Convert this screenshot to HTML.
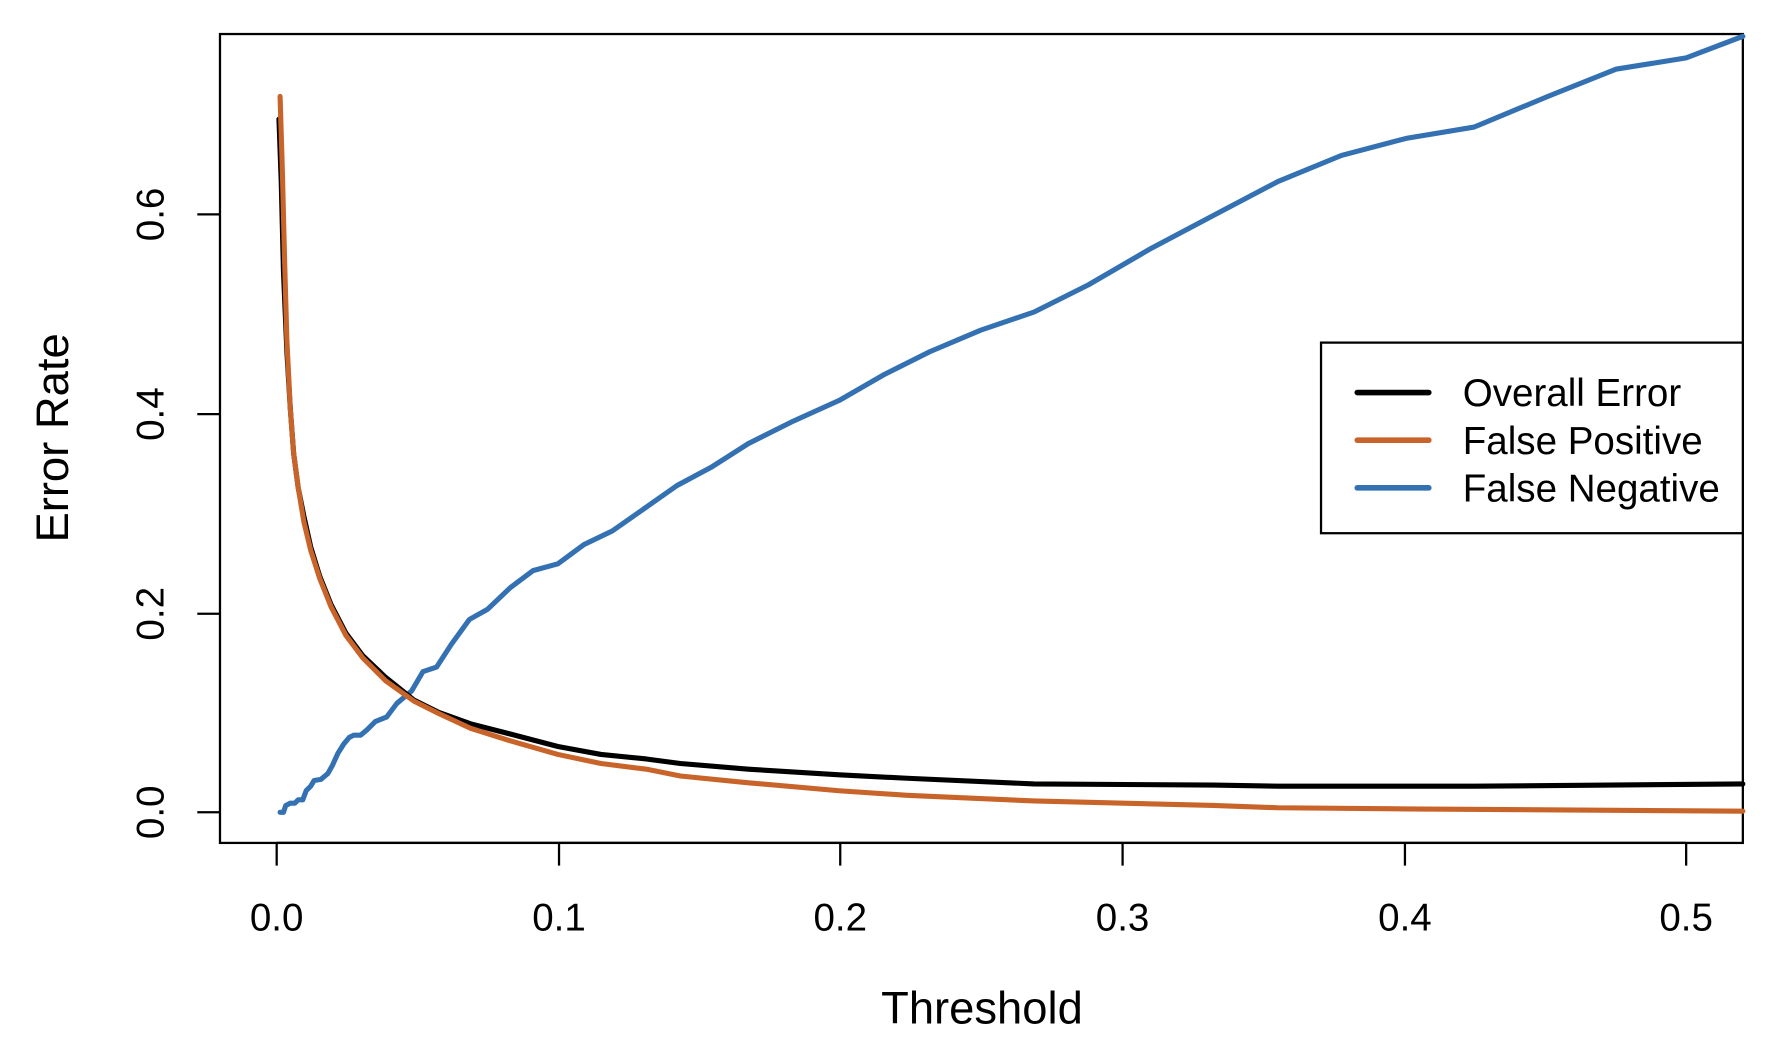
<!DOCTYPE html>
<html><head><meta charset="utf-8"><style>html,body{margin:0;padding:0;background:#fff}svg{display:block}</style></head>
<body>
<svg width="1778" height="1046" viewBox="0 0 1568 922" preserveAspectRatio="none" xmlns="http://www.w3.org/2000/svg" font-family="Liberation Sans, sans-serif">
<rect x="0" y="0" width="1568" height="922" fill="#fff"/>
<g stroke="#000" stroke-width="2" fill="none">
<rect x="194" y="30" width="1343" height="713"/>
<line x1="244" y1="743" x2="1487" y2="743"/>
<line x1="244" y1="743" x2="244" y2="763"/><line x1="493" y1="743" x2="493" y2="763"/><line x1="741" y1="743" x2="741" y2="763"/><line x1="990" y1="743" x2="990" y2="763"/><line x1="1239" y1="743" x2="1239" y2="763"/><line x1="1487" y1="743" x2="1487" y2="763"/>
<line x1="174" y1="716" x2="194" y2="716"/><line x1="174" y1="541" x2="194" y2="541"/><line x1="174" y1="365" x2="194" y2="365"/><line x1="174" y1="189" x2="194" y2="189"/>
</g>
<g font-size="34" text-anchor="middle" fill="#000">
<text x="244" y="820">0.0</text><text x="493" y="820">0.1</text><text x="741" y="820">0.2</text><text x="990" y="820">0.3</text><text x="1239" y="820">0.4</text><text x="1487" y="820">0.5</text>
<text transform="translate(144,716) rotate(-90)">0.0</text>
<text transform="translate(144,541) rotate(-90)">0.2</text>
<text transform="translate(144,365) rotate(-90)">0.4</text>
<text transform="translate(144,189) rotate(-90)">0.6</text>
<text x="866" y="902" font-size="40">Threshold</text>
<text transform="translate(60,386) rotate(-90)" font-size="40">Error Rate</text>
</g>
<g fill="none" stroke-width="4.5" stroke-linejoin="round" stroke-linecap="round">
<polyline stroke="#3371b2" points="247,716 250,716 252,710 256,708 260,708 263,705 267,705 270,697 274,693 277,688 283,687 289,682 293,675 298,664 303,656 308,650 312,648 318,648 324,643 331,636 341,632 350,620 363,609 373,592 385,588 398,568 414,546 430,537 450,518 470,503 492,497 515,480 540,468 570,447 597,428 627,412 660,391 700,371 740,353 780,330 820,310 865,291 912,275 960,251 1015,219 1070,190 1127,160 1183,137 1240,122 1300,112 1365,85 1425,61 1487,51 1537,32"/>
<polyline stroke="#000" points="246,105 248,160 250,240 253,310 256,360 259,400 263,430 268,455 274,482 282,508 292,533 305,558 320,578 340,597 365,617 387,628 415,638 450,647 492,658 530,665 570,669 600,673 660,678 740,683 800,686 912,691 1070,692 1127,693 1240,693 1300,693 1537,691"/>
<polyline stroke="#c8642a" points="247,85 249,150 251,230 253,300 256,360 259,400 263,430 268,460 274,485 282,510 292,535 305,560 320,580 340,600 365,618 387,629 415,642 450,653 492,665 530,673 570,678 600,684 660,690 740,697 800,701 912,706 1070,710 1127,712 1240,713 1537,715"/>
</g>
<rect x="1165" y="302" width="372" height="168" fill="#fff" stroke="#000" stroke-width="2"/>
<g stroke-width="5" stroke-linecap="round">
<line x1="1197" y1="346" x2="1260" y2="346" stroke="#000"/>
<line x1="1197" y1="388" x2="1260" y2="388" stroke="#c8642a"/>
<line x1="1197" y1="430" x2="1260" y2="430" stroke="#3371b2"/>
</g>
<g font-size="34" fill="#000">
<text x="1290" y="358">Overall Error</text>
<text x="1290" y="400">False Positive</text>
<text x="1290" y="442">False Negative</text>
</g>
</svg>
</body></html>
